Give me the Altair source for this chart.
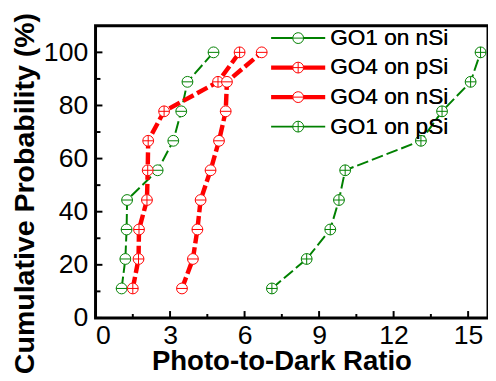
import altair as alt
import pandas as pd

series_names = ["GO1 on nSi", "GO4 on pSi", "GO4 on nSi", "GO1 on pSi"]
series_colors = ["#008000", "#ff0000", "#ff0000", "#008000"]
probability = [11.1, 22.2, 33.3, 44.4, 55.6, 66.7, 77.8, 88.9, 100.0]
go1_nsi = [1.05, 1.2, 1.25, 1.27, 2.5, 3.13, 3.45, 3.7, 4.75]
go4_psi = [1.5, 1.73, 1.75, 2.07, 2.1, 2.12, 2.76, 4.93, 5.8]
go4_nsi = [3.48, 3.92, 4.1, 4.23, 4.63, 4.97, 5.24, 5.29, 6.69]
go1_psi = [7.1, 8.5, 9.45, 9.8, 10.05, 13.1, 13.95, 15.1, 15.5]
x_major = [0, 3, 6, 9, 12, 15]
x_minor = [1.5, 4.5, 7.5, 10.5, 13.5]
y_major = [0, 20, 40, 60, 80, 100]
y_minor = [10, 30, 50, 70, 90]

rows = []
for name, vals in zip(series_names, [go1_nsi, go4_psi, go4_nsi, go1_psi]):
    for p, v in zip(probability, vals):
        rows.append({"series": name, "ratio": v, "prob": p})
df = pd.DataFrame(rows)

W, H = 399, 297
FONT = "Liberation Sans"

minus = "M-1,0A1,1 0 1,1 1,0A1,1 0 1,1 -1,0ZM-1,0L1,0"
plus = minus + "M0,-1L0,1"
shape_range = [minus, plus, minus, plus]

xscale = alt.Scale(domain=[0, 15.8], nice=False, zero=False)
yscale = alt.Scale(domain=[0, 110], nice=False)
cscale = alt.Scale(domain=series_names, range=series_colors)
wscale = alt.Scale(type="ordinal", domain=series_names, range=[2, 4.5, 4.5, 2])

xax = alt.Axis(values=x_major, title="Photo-to-Dark Ratio", labelFontSize=27,
               labelFont=FONT, labelColor="black", labelPadding=5,
               titleFont=FONT, titleFontSize=28, titleFontWeight="bold",
               titleColor="black", titleBaseline="alphabetic", titleY=52,
               titleX=189, ticks=False, domain=False, grid=False)
yax = alt.Axis(values=y_major, title="Cumulative Probability (%)", labelFontSize=27,
               labelFont=FONT, labelColor="black", labelPadding=8,
               titleFont=FONT, titleFontSize=29, titleFontWeight="bold",
               titleColor="black", titleBaseline="alphabetic", titleX=-63,
               titleY=170, ticks=False, domain=False, grid=False)


def make_legend(symbol_type=None, **kw):
    args = dict(title=None, orient="none", legendX=194.5, legendY=1, padding=0,
                labelFont=FONT, labelFontSize=23, labelColor="black", labelOffset=21,
                rowPadding=6, symbolSize=121)
    if symbol_type is not None:
        args["symbolType"] = symbol_type
    args.update(kw)
    return alt.Legend(**args)


base = alt.Chart(df)

line_legend = make_legend("M-5,0L5,0", symbolDash=[30, 0])
lines = base.mark_line(strokeDash=[12, 4], strokeCap="butt").encode(
    x=alt.X("ratio:Q", scale=xscale, axis=xax),
    y=alt.Y("prob:Q", scale=yscale, axis=yax),
    color=alt.Color("series:N", scale=cscale, legend=line_legend),
    strokeWidth=alt.StrokeWidth("series:N", scale=wscale, legend=line_legend),
    detail="series:N",
    order="prob:Q",
)

pt_legend = make_legend(symbolFillColor="white", symbolStrokeWidth=1)
points = base.mark_point(filled=False, fill="white", size=121, strokeWidth=1, opacity=1).encode(
    x=alt.X("ratio:Q", scale=xscale, axis=xax),
    y=alt.Y("prob:Q", scale=yscale, axis=yax),
    color=alt.Color("series:N", scale=cscale, legend=pt_legend),
    shape=alt.Shape("series:N", scale=alt.Scale(domain=series_names, range=shape_range), legend=pt_legend),
)

xt_major = alt.Chart(pd.DataFrame({"t": x_major})).mark_rule(color="black", strokeWidth=2).encode(
    x=alt.X("t:Q", scale=xscale, axis=xax), y=alt.value(H), y2=alt.value(H - 7))
xt_minor = alt.Chart(pd.DataFrame({"t": x_minor})).mark_rule(color="black", strokeWidth=2).encode(
    x=alt.X("t:Q", scale=xscale, axis=xax), y=alt.value(H), y2=alt.value(H - 4))
yt_major = alt.Chart(pd.DataFrame({"t": y_major})).mark_rule(color="black", strokeWidth=2).encode(
    y=alt.Y("t:Q", scale=yscale, axis=yax), x=alt.value(0), x2=alt.value(7))
yt_minor = alt.Chart(pd.DataFrame({"t": y_minor})).mark_rule(color="black", strokeWidth=2).encode(
    y=alt.Y("t:Q", scale=yscale, axis=yax), x=alt.value(0), x2=alt.value(5))

chart = alt.layer(lines, points, xt_major, xt_minor, yt_major, yt_minor).resolve_legend(
    color="independent", shape="independent", strokeWidth="independent"
).properties(
    width=W, height=H,
    autosize=alt.AutoSizeParams(type="none"),
    padding={"left": 89, "top": 15, "right": 0, "bottom": 60},
    background="white",
).configure_view(stroke="black", strokeWidth=3)

chart.save("out.html", embed_options={"renderer": "svg", "actions": False})
